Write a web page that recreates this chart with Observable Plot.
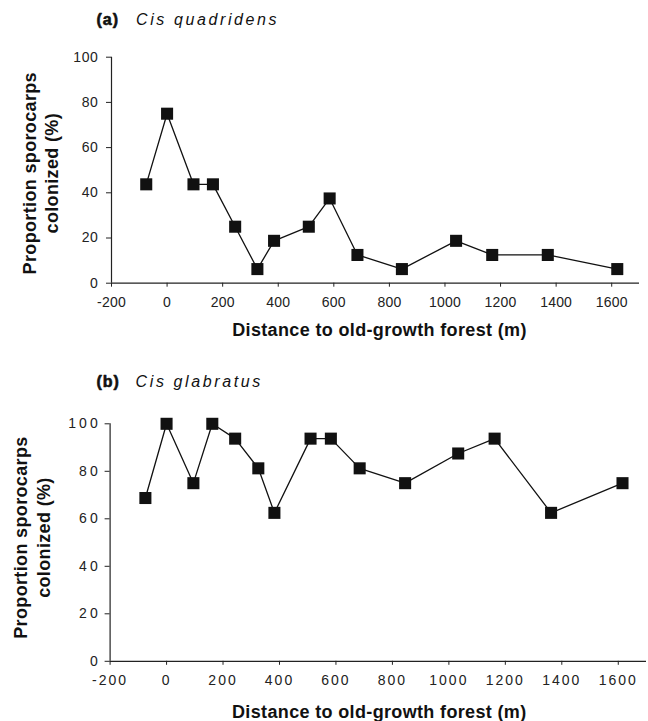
<!DOCTYPE html>
<html><head><meta charset="utf-8">
<script src="https://cdn.jsdelivr.net/npm/d3@7"></script>
<script src="https://cdn.jsdelivr.net/npm/@observablehq/plot@0.6"></script>
<style>
body{margin:0;background:#fff;}
#chart{width:648px;height:721px;position:relative;background:#fff;}
#chart svg{display:block;}
</style></head><body><div id="chart"></div>
<script>
// ---- data ----
const distA = [-75, 0, 95, 165, 245, 325, 385, 510, 585, 685, 845, 1040, 1170, 1370, 1620];
const colonizedA = [43.75, 75, 43.75, 43.75, 25, 6.25, 18.75, 25, 37.5, 12.5, 6.25, 18.75, 12.5, 12.5, 6.25];
const distB = [-75, 0, 95, 162, 243, 325, 382, 510, 582, 684, 845, 1033, 1162, 1362, 1615];
const colonizedB = [68.75, 100, 75, 100, 93.75, 81.25, 62.5, 93.75, 93.75, 81.25, 75, 87.5, 93.75, 62.5, 75];
const xTicks = [-200, 0, 200, 400, 600, 800, 1000, 1200, 1400, 1600];
const yTicks = [0, 20, 40, 60, 80, 100];
const panelLetters = ["(a)", "(b)"];
const speciesNames = ["Cis quadridens", "Cis glabratus"];
const yLabelLines = ["Proportion sporocarps", "colonized (%)"];
const xLabelText = "Distance to old-growth forest (m)";

const FONT = "Liberation Sans, Arial, Helvetica, sans-serif";

function panel(cfg) {
  const data = cfg.x.map((d, i) => ({dist: d, pct: cfg.y[i]}));
  const svg = Plot.plot({
    width: 648,
    height: cfg.height,
    marginTop: cfg.mt, marginBottom: cfg.mb, marginLeft: cfg.ml, marginRight: cfg.mr,
    style: {fontFamily: FONT, background: "#fff", overflow: "visible"},
    x: {domain: [-200, 1700]},
    y: {domain: [0, 100]},
    marks: [
      Plot.ruleY([0], {stroke: "#222", strokeWidth: 1.2}),
      Plot.ruleX([-200], {stroke: "#222", strokeWidth: 1.2}),
      Plot.axisX(xTicks, {tickSize: 4, tickPadding: cfg.xPad, tickFormat: d => String(d), fontSize: 14, color: "#222", label: null}),
      Plot.axisY(yTicks, {tickSize: 5, tickPadding: cfg.yPad, tickFormat: d => String(d), fontSize: 14, color: "#222", label: null}),
      Plot.line(data, {x: "dist", y: "pct", stroke: "#111", strokeWidth: 1.3}),
      Plot.dot(data, {x: "dist", y: "pct", symbol: "square", r: 6.8, fill: "#111", stroke: "none"}),
      Plot.text([cfg.letter], {frameAnchor: "top-left", textAnchor: "start", lineAnchor: "bottom", dx: cfg.titleDx, dy: cfg.titleDy, fontWeight: "bold", fontSize: 16, fill: "#111", stroke: "#111", strokeWidth: 0.6}),
      Plot.text([cfg.species], {frameAnchor: "top-left", textAnchor: "start", lineAnchor: "bottom", dx: cfg.speciesDx, dy: cfg.titleDy, fontStyle: "italic", fontSize: 16, fill: "#111"}),
      Plot.text([yLabelLines[0]], {frameAnchor: "left", textAnchor: "middle", lineAnchor: "bottom", rotate: -90, dx: cfg.yl1, dy: cfg.ylDy, fontWeight: "bold", fontSize: 18, fill: "#111"}),
      Plot.text([yLabelLines[1]], {frameAnchor: "left", textAnchor: "middle", lineAnchor: "bottom", rotate: -90, dx: cfg.yl2, dy: cfg.ylDy, fontWeight: "bold", fontSize: 18, fill: "#111"}),
      Plot.text([xLabelText], {frameAnchor: "bottom", textAnchor: "middle", lineAnchor: "bottom", dx: cfg.xlDx, dy: cfg.xlDy, fontWeight: "bold", fontSize: 18, fill: "#111"})
    ]
  });
  const s = d3.select(svg);
  s.selectAll('[aria-label="x-axis tick label"] text').attr("letter-spacing", cfg.xLs);
  s.selectAll('[aria-label="y-axis tick label"] text').attr("letter-spacing", cfg.yLs);
  s.selectAll('[aria-label="text"] text').each(function () {
    const t = d3.select(this);
    const txt = t.text();
    if (txt === xLabelText || yLabelLines.includes(txt)) t.attr("letter-spacing", 0.35);
    if (speciesNames.includes(txt)) t.attr("letter-spacing", 2.6);
    if (panelLetters.includes(txt)) t.attr("letter-spacing", 1);
  });
  return svg;
}

const root = document.getElementById("chart");
root.append(panel({
  x: distA, y: colonizedA, height: 345,
  mt: 56.7, mb: 62.3, ml: 111, mr: 9,
  xPad: 10, yPad: 8, xLs: 0.2, yLs: 0.6,
  letter: panelLetters[0], species: speciesNames[0],
  titleDx: -15, speciesDx: 24.5, titleDy: -32.2,
  yl1: -76, yl2: -54, ylDy: 3,
  xlDx: 4, xlDy: 52.3
}));
root.append(panel({
  x: distB, y: colonizedB, height: 376,
  mt: 78.3, mb: 60.2, ml: 109.6, mr: 2,
  xPad: 9.5, yPad: 4, xLs: 2, yLs: 3.2,
  letter: panelLetters[1], species: speciesNames[1],
  titleDx: -13.6, speciesDx: 25.5, titleDy: -37.3,
  yl1: -83, yl2: -60, ylDy: -5,
  xlDx: 1, xlDy: 56.2
}));
</script></body></html>
